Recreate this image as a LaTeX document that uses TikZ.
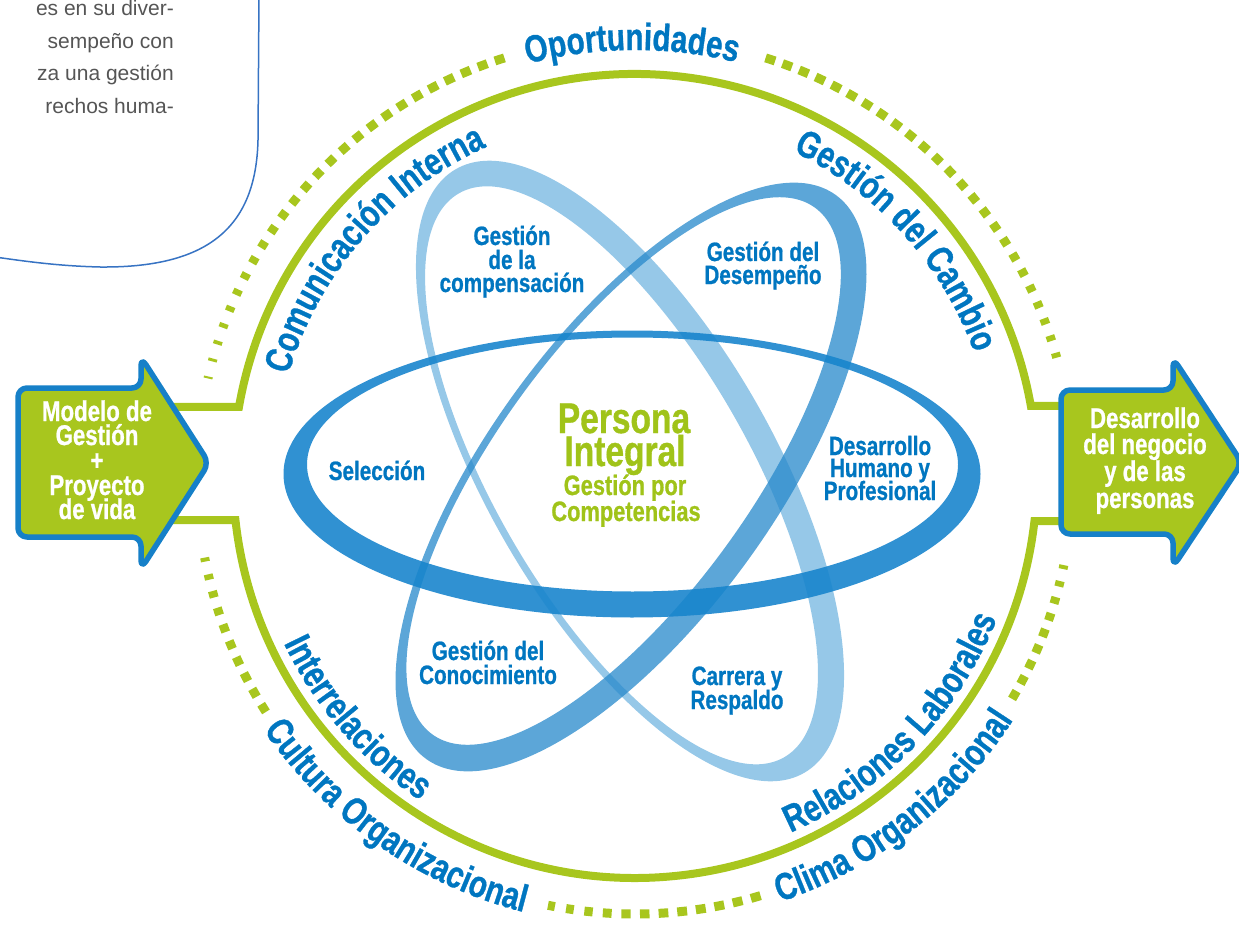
\documentclass[tikz,border=0pt]{standalone}
\usepackage{fontspec}
\setmainfont{Liberation Sans}
\newfontfamily\cfb[FakeStretch=0.78, FakeBold=0.8]{Liberation Sans Bold}
\usetikzlibrary{decorations.text}
\definecolor{gr}{RGB}{168,198,30}
\definecolor{ptxt}{RGB}{160,195,25}
\definecolor{tblue}{RGB}{0,118,192}
\definecolor{abl}{RGB}{115,182,224}
\definecolor{bbl}{RGB}{38,136,203}
\definecolor{cbl}{RGB}{25,133,205}
\definecolor{arb}{RGB}{22,128,200}
\definecolor{callb}{RGB}{55,115,195}
\definecolor{gtxt}{RGB}{85,85,85}
\tikzset{
 ringtext/.style={decorate, decoration={text along path, text align=center, text color=tblue, text={|\cfb\fontsize{38}{40}\selectfont|#1}}},
 lbl/.style={anchor=base, inner sep=0pt, text=tblue, font=\cfb\fontsize{26.5}{28}\selectfont},
 ctr/.style={anchor=base, inner sep=0pt, text=ptxt, font=\cfb\fontsize{28}{30}\selectfont},
 ctrbig/.style={anchor=base, inner sep=0pt, text=ptxt, font=\cfb\fontsize{43}{45}\selectfont},
 arrtxt/.style={anchor=base, inner sep=0pt, text=white, font=\cfb\fontsize{28.5}{30}\selectfont},
 calltxt/.style={anchor=base east, inner sep=0pt, text=gtxt, font=\fontsize{21}{25}\selectfont},
 ringline/.style={draw=gr, line width=8pt},
 arrowbox/.style={fill=gr, draw=arb, line width=5.5pt, rounded corners=9pt, line join=round},
}
% #1 angle of small end, #2 angle of big end, #3 steps, #4 small size, #5 big size
\newcommand\dotarc[5]{%
 \foreach \i in {0,...,#3}{%
  \pgfmathsetmacro\th{#1+\i*(#2-#1)/#3}%
  \pgfmathsetmacro\tw{(#5-(#5-#4)*(1-\i/#3)^3)/2}%
  \fill[gr, shift={(O)}, rotate=\th] (433.5,-\tw) rectangle (442.5,\tw);
 }}
\begin{document}
\begin{tikzpicture}[x=1pt,y=1pt]
\useasboundingbox (0,0) rectangle (1239,-925);
\clip (0,0) rectangle (1239,-925);
\coordinate (O) at (635,-476);

% callout box
\draw[callb, line width=1.5pt] (259,5) -- (258,-140) .. controls (256,-230) and (205,-268) .. (100,-267) .. controls (60,-266) and (30,-262) .. (-5,-257);
\node[calltxt] (c1) at (174,-16) {es en su diver-};
\node[calltxt] (c2) at (174,-48.5) {sempeño con};
\node[calltxt] (c3) at (174,-81) {za una gestión};
\node[calltxt] (c4) at (174,-113.5) {rechos huma-};

% ellipses
\fill[abl, fill opacity=.75, even odd rule, shift={(630,-471)}, rotate=120] (0,0) ellipse[x radius=348.5, y radius=143.5] (0.5,9.5) ellipse[x radius=325.5, y radius=127];
\fill[bbl, fill opacity=.75, even odd rule, shift={(631,-477)}, rotate=54] (0,0) ellipse[x radius=348.5, y radius=143.5] (0.5,9.5) ellipse[x radius=325.5, y radius=127];
\fill[cbl, fill opacity=.9, even odd rule, shift={(632,-474)}] (0,0) ellipse[x radius=348.5, y radius=143.5] (0.5,9.5) ellipse[x radius=325.5, y radius=127];

% labels inside
\node[lbl] (comp1) at (512,-245) {Gestión};
\node[lbl] (comp2) at (512,-269) {de la};
\node[lbl] (comp3) at (512,-292) {compensación};
\node[lbl] (des1) at (763,-261) {Gestión del};
\node[lbl] (des2) at (763,-284) {Desempeño};
\node[lbl] (sel) at (377,-480) {Selección};
\node[lbl] (dh1) at (880,-455) {Desarrollo};
\node[lbl] (dh2) at (880,-477) {Humano y};
\node[lbl] (dh3) at (880,-500) {Profesional};
\node[lbl] (con1) at (488,-660) {Gestión del};
\node[lbl] (con2) at (488,-684) {Conocimiento};
\node[lbl] (car1) at (737,-685) {Carrera y};
\node[lbl] (car2) at (737,-709) {Respaldo};
\node[ctrbig] (per1) at (624,-433) {Persona};
\node[ctrbig] (per2) at (625,-466) {Integral};
\node[ctr] (gpc1) at (625,-495) {Gestión por};
\node[ctr] (gpc2) at (626,-521) {Competencias};

% dotted outer ring
\dotarc{167}{108}{25}{2}{10}
\dotarc{16}{72}{24}{5}{10}
\dotarc{191}{212}{9}{4}{9}
\dotarc{259}{286}{11}{7}{10}
\dotarc{348}{330}{8}{4}{9}

% ring texts
\path[ringtext={Oportunidades}] ([shift={(130.4:426)}]O) arc[start angle=130.4,end angle=50.4,radius=426];
\path[ringtext={Comunicación Interna}] ([shift={(178:361)}]O) arc[start angle=178,end angle=100,radius=361];
\path[ringtext={Gestión del Cambio}] ([shift={(82:361)}]O) arc[start angle=82,end angle=2,radius=361];
\path[ringtext={Interrelaciones}] ([shift={(181:389)}]O) arc[start angle=181,end angle=261,radius=389];
\path[ringtext={Relaciones Laborales}] ([shift={(276:389)}]O) arc[start angle=276,end angle=356,radius=389];
\path[ringtext={Cultura Organizacional}] ([shift={(195:450)}]O) arc[start angle=195,end angle=275,radius=450];
\path[ringtext={Clima Organizacional}] ([shift={(268:450)}]O) arc[start angle=268,end angle=348,radius=450];

% green ring with stubs
\coordinate (LT) at (140,-407);
\coordinate (LB) at (140,-520);
\coordinate (RT) at (1175,-406);
\coordinate (RB) at (1175,-521);
\draw[ringline] (LT) -- ([shift={(170.1:402)}]O) arc[start angle=170.1,end angle=10.03,radius=402] -- (RT);
\draw[ringline] (LB) -- ([shift={(186.3:402)}]O) arc[start angle=186.3,end angle=353.57,radius=402] -- (RB);

% arrows
\draw[arrowbox] (18,-460) -- (18,-388) -- (141,-388) -- (141,-357) -- (209,-463) -- (141,-569) -- (141,-537) -- (18,-537) -- cycle;
\draw[arrowbox] (1061,-460) -- (1061,-390) -- (1173,-390) -- (1173,-358) -- (1242,-463) -- (1173,-567) -- (1173,-534) -- (1061,-534) -- cycle;
\node[arrtxt] (m1) at (97,-421) {Modelo de};
\node[arrtxt] (m2) at (97,-445) {Gestión};
\node[arrtxt] (m3) at (97,-470) {+};
\node[arrtxt] (m4) at (97,-495) {Proyecto};
\node[arrtxt] (m5) at (97,-519) {de vida};
\node[arrtxt] (d1) at (1145,-428) {Desarrollo};
\node[arrtxt] (d2) at (1145,-454) {del negocio};
\node[arrtxt] (d3) at (1145,-481) {y de las};
\node[arrtxt] (d4) at (1145,-508) {personas};
\end{tikzpicture}
\end{document}
